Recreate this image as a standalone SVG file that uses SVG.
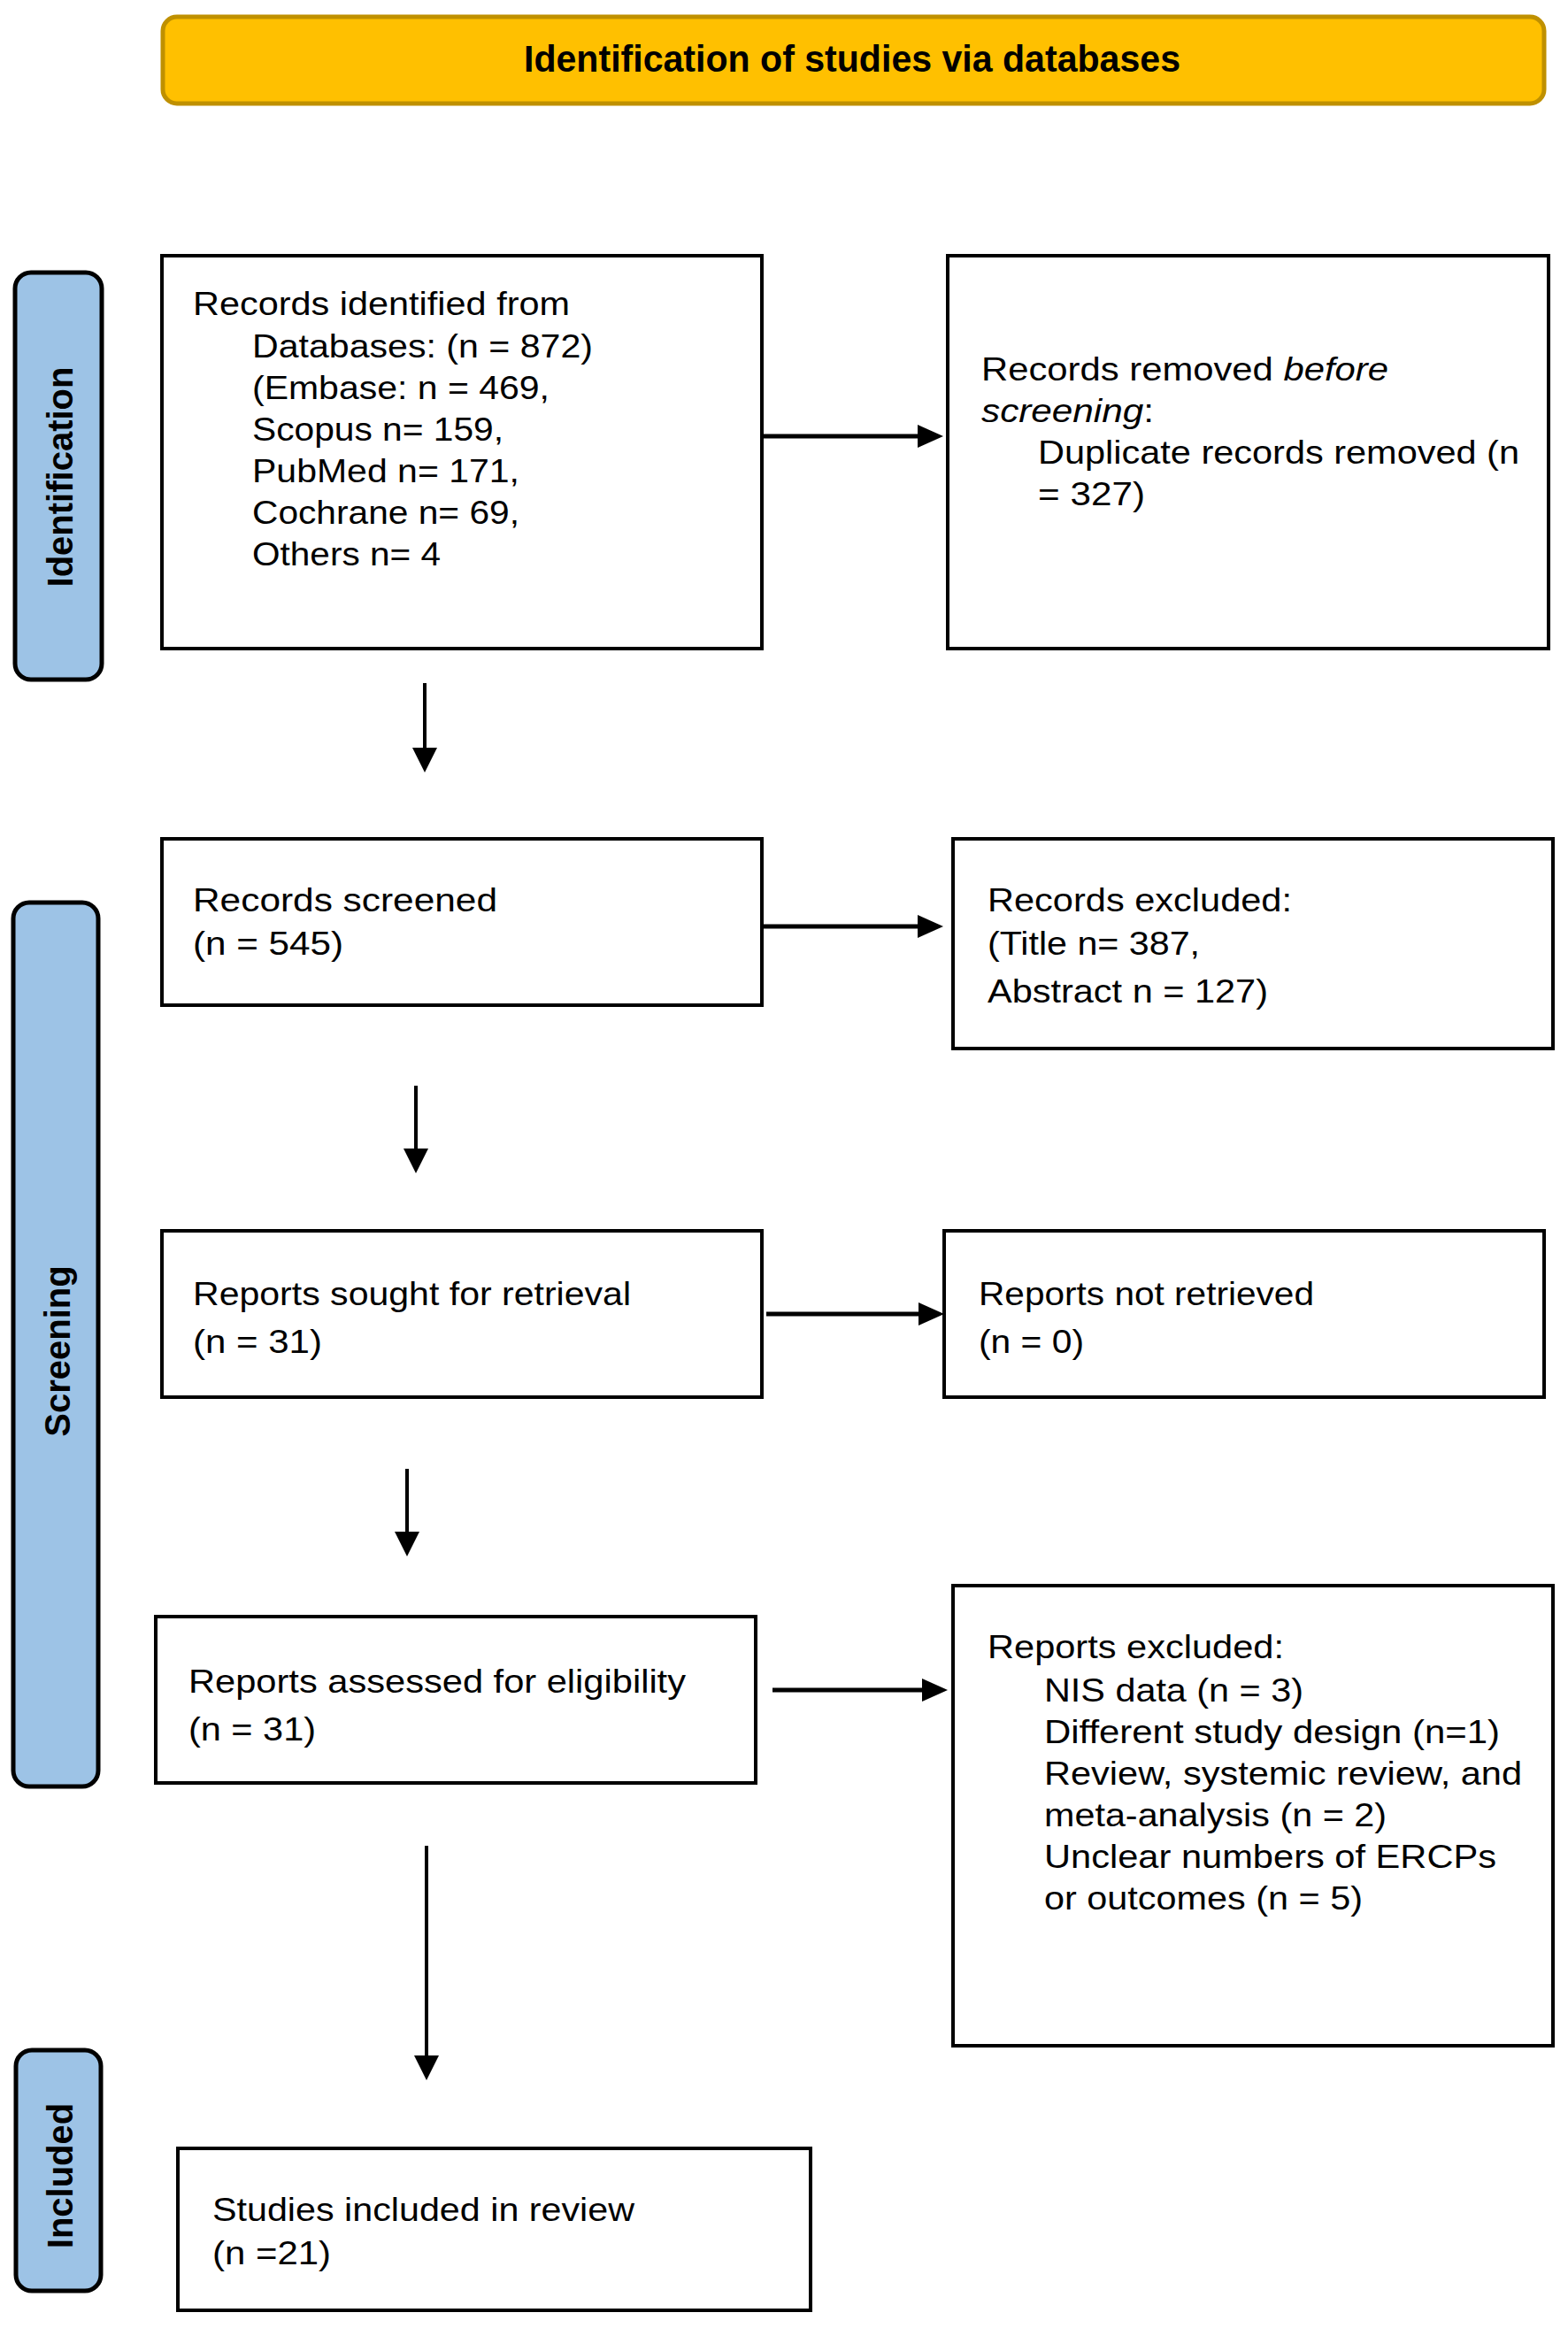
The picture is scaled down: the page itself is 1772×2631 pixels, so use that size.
<svg xmlns="http://www.w3.org/2000/svg" width="1772" height="2631" viewBox="0 0 1772 2631">
<style>
.box{fill:#fff;stroke:#000;stroke-width:4}
.side{fill:#9DC3E6;stroke:#000;stroke-width:5}
.t{font-family:"Liberation Sans",Arial,sans-serif;font-size:36px;fill:#000}
.sl{font-family:"Liberation Sans",Arial,sans-serif;font-size:40px;font-weight:bold;fill:#000;text-anchor:middle}
.hl{stroke:#000;stroke-width:5;fill:none}
.vl{stroke:#000;stroke-width:4;fill:none}
.ah{fill:#000}
</style>
<rect width="1772" height="2631" fill="#fff"/>
<g id="banner">
<rect x="184" y="19" width="1561" height="98" rx="16" fill="#FFC000" stroke="#BF9000" stroke-width="5"/>
<text x="592" y="81" font-family="Liberation Sans,Arial,sans-serif" font-size="42" font-weight="bold" textLength="742" lengthAdjust="spacingAndGlyphs">Identification of studies via databases</text>
</g>
<g id="side-identification">
<rect class="side" x="17" y="308" width="98" height="460" rx="18"/>
<text class="sl" transform="translate(82,539) rotate(-90)">Identification</text>
</g>
<g id="side-screening">
<rect class="side" x="15" y="1020" width="96" height="999" rx="18"/>
<text class="sl" transform="translate(79,1527) rotate(-90)">Screening</text>
</g>
<g id="side-included">
<rect class="side" x="18" y="2317" width="96" height="272" rx="18"/>
<text class="sl" transform="translate(82,2459) rotate(-90)">Included</text>
</g>
<g id="records-identified">
<rect class="box" x="183" y="289" width="678" height="444"/>
<text class="t" x="218" y="356" textLength="426" lengthAdjust="spacingAndGlyphs">Records identified from</text>
<text class="t" x="285" y="404" textLength="385" lengthAdjust="spacingAndGlyphs">Databases: (n = 872)</text>
<text class="t" x="285" y="451" textLength="336" lengthAdjust="spacingAndGlyphs">(Embase: n = 469,</text>
<text class="t" x="285" y="498" textLength="284" lengthAdjust="spacingAndGlyphs">Scopus n= 159,</text>
<text class="t" x="285" y="545" textLength="302" lengthAdjust="spacingAndGlyphs">PubMed n= 171,</text>
<text class="t" x="285" y="592" textLength="302" lengthAdjust="spacingAndGlyphs">Cochrane n= 69,</text>
<text class="t" x="285" y="639" textLength="213" lengthAdjust="spacingAndGlyphs">Others n= 4</text>
</g>
<g id="records-removed">
<rect class="box" x="1071" y="289" width="679" height="444"/>
<text class="t" x="1109" y="430" textLength="460" lengthAdjust="spacingAndGlyphs">Records removed <tspan font-style="italic">before</tspan></text>
<text class="t" x="1109" y="477" textLength="195" lengthAdjust="spacingAndGlyphs"><tspan font-style="italic">screening</tspan>:</text>
<text class="t" x="1173" y="524" textLength="544" lengthAdjust="spacingAndGlyphs">Duplicate records removed (n</text>
<text class="t" x="1173" y="571" textLength="121" lengthAdjust="spacingAndGlyphs">= 327)</text>
</g>
<g id="records-screened">
<rect class="box" x="183" y="948" width="678" height="188"/>
<text class="t" x="218" y="1030" textLength="344" lengthAdjust="spacingAndGlyphs">Records screened</text>
<text class="t" x="218" y="1079" textLength="170" lengthAdjust="spacingAndGlyphs">(n = 545)</text>
</g>
<g id="records-excluded">
<rect class="box" x="1077" y="948" width="678" height="237"/>
<text class="t" x="1116" y="1030" textLength="344" lengthAdjust="spacingAndGlyphs">Records excluded:</text>
<text class="t" x="1116" y="1079" textLength="240" lengthAdjust="spacingAndGlyphs">(Title n= 387,</text>
<text class="t" x="1116" y="1133" textLength="317" lengthAdjust="spacingAndGlyphs">Abstract n = 127)</text>
</g>
<g id="reports-sought">
<rect class="box" x="183" y="1391" width="678" height="188"/>
<text class="t" x="218" y="1475" textLength="495" lengthAdjust="spacingAndGlyphs">Reports sought for retrieval</text>
<text class="t" x="218" y="1529" textLength="146" lengthAdjust="spacingAndGlyphs">(n = 31)</text>
</g>
<g id="reports-not-retrieved">
<rect class="box" x="1067" y="1391" width="678" height="188"/>
<text class="t" x="1106" y="1475" textLength="379" lengthAdjust="spacingAndGlyphs">Reports not retrieved</text>
<text class="t" x="1106" y="1529" textLength="119" lengthAdjust="spacingAndGlyphs">(n = 0)</text>
</g>
<g id="reports-assessed">
<rect class="box" x="176" y="1827" width="678" height="188"/>
<text class="t" x="213" y="1913" textLength="562" lengthAdjust="spacingAndGlyphs">Reports assessed for eligibility</text>
<text class="t" x="213" y="1967" textLength="144" lengthAdjust="spacingAndGlyphs">(n = 31)</text>
</g>
<g id="reports-excluded">
<rect class="box" x="1077" y="1792" width="678" height="520"/>
<text class="t" x="1116" y="1874" textLength="335" lengthAdjust="spacingAndGlyphs">Reports excluded:</text>
<text class="t" x="1180" y="1923" textLength="293" lengthAdjust="spacingAndGlyphs">NIS data (n = 3)</text>
<text class="t" x="1180" y="1970" textLength="515" lengthAdjust="spacingAndGlyphs">Different study design (n=1)</text>
<text class="t" x="1180" y="2017" textLength="540" lengthAdjust="spacingAndGlyphs">Review, systemic review, and</text>
<text class="t" x="1180" y="2064" textLength="387" lengthAdjust="spacingAndGlyphs">meta-analysis (n = 2)</text>
<text class="t" x="1180" y="2111" textLength="511" lengthAdjust="spacingAndGlyphs">Unclear numbers of ERCPs</text>
<text class="t" x="1180" y="2158" textLength="360" lengthAdjust="spacingAndGlyphs">or outcomes (n = 5)</text>
</g>
<g id="studies-included">
<rect class="box" x="201" y="2428" width="715" height="183"/>
<text class="t" x="240" y="2510" textLength="477" lengthAdjust="spacingAndGlyphs">Studies included in review</text>
<text class="t" x="240" y="2559" textLength="134" lengthAdjust="spacingAndGlyphs">(n =21)</text>
</g>
<g id="connectors">
<line class="hl" x1="861" y1="493" x2="1040" y2="493"/>
<polygon class="ah" points="1037,480 1066,493 1037,506"/>
<line class="hl" x1="861" y1="1047" x2="1040" y2="1047"/>
<polygon class="ah" points="1037,1034 1066,1047 1037,1060"/>
<line class="hl" x1="866" y1="1485" x2="1041" y2="1485"/>
<polygon class="ah" points="1038,1472 1067,1485 1038,1498"/>
<line class="hl" x1="873" y1="1910" x2="1045" y2="1910"/>
<polygon class="ah" points="1042,1897 1071,1910 1042,1923"/>
<line class="vl" x1="480" y1="772" x2="480" y2="847"/>
<polygon class="ah" points="466,845 494,845 480,873"/>
<line class="vl" x1="470" y1="1227" x2="470" y2="1300"/>
<polygon class="ah" points="456,1298 484,1298 470,1326"/>
<line class="vl" x1="460" y1="1660" x2="460" y2="1733"/>
<polygon class="ah" points="446,1731 474,1731 460,1759"/>
<line class="vl" x1="482" y1="2086" x2="482" y2="2325"/>
<polygon class="ah" points="468,2323 496,2323 482,2351"/>
</g>
</svg>
